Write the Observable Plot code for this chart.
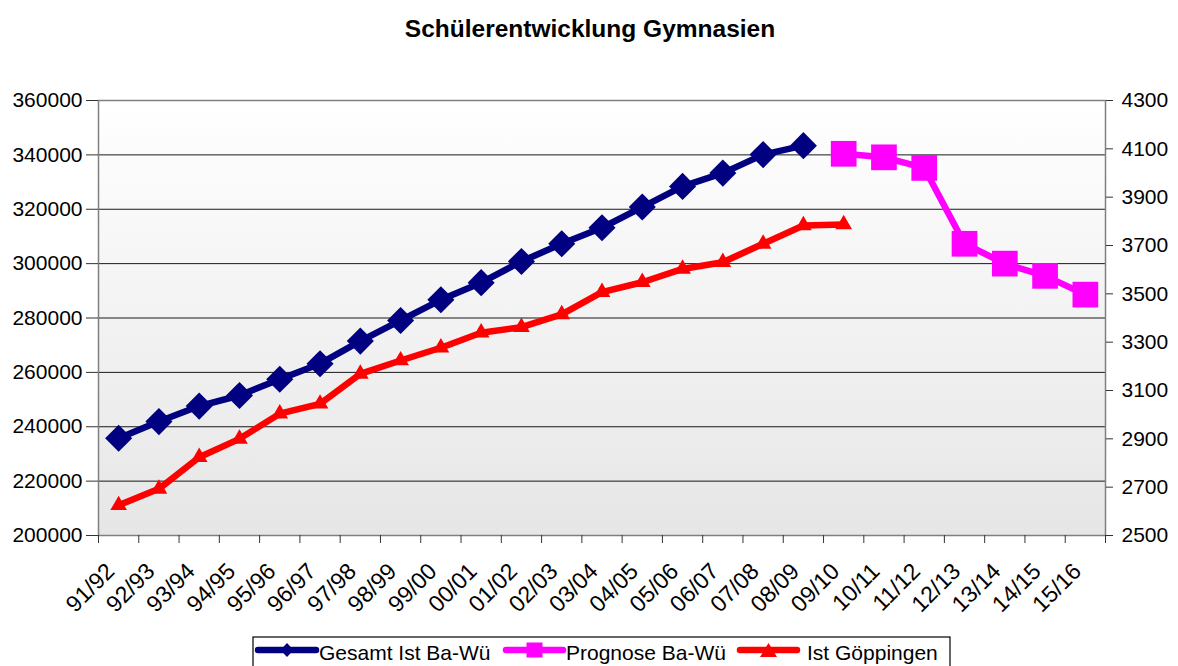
<!DOCTYPE html>
<html>
<head>
<meta charset="utf-8">
<script src="https://cdn.jsdelivr.net/npm/d3@7"></script>
<script src="https://cdn.jsdelivr.net/npm/@observablehq/plot@0.6"></script>
<style>
  body { margin: 0; background: #ffffff; }
  #chart svg { display: block; }
</style>
</head>
<body>
<div id="chart"></div>
<script>
// ---- data ----
const years = ["91/92","92/93","93/94","94/95","95/96","96/97","97/98","98/99","99/00","00/01",
  "01/02","02/03","03/04","04/05","05/06","06/07","07/08","08/09","09/10","10/11",
  "11/12","12/13","13/14","14/15","15/16"];

// Gesamt Ist Ba-Wü (left axis), 91/92 .. 08/09
const gesamtIst = [235800, 241900, 247600, 251500, 257500, 263200, 271500, 279100, 286700, 293000,
  300800, 307300, 313200, 320800, 328400, 333300, 340100, 343400];

// Prognose Ba-Wü (left axis), 09/10 .. 15/16
const prognoseStart = "09/10";
const prognose = [340400, 339100, 335200, 307300, 300000, 295500, 288600];

// Ist Göppingen (right axis), 91/92 .. 09/10
const goeppingen = [2625, 2693, 2824, 2900, 3004, 3045, 3169, 3224, 3277, 3339,
  3362, 3415, 3507, 3548, 3603, 3631, 3707, 3783, 3787];

const leftTicks = [200000, 220000, 240000, 260000, 280000, 300000, 320000, 340000, 360000];
const rightTicks = [2500, 2700, 2900, 3100, 3300, 3500, 3700, 3900, 4100, 4300];
const rightDomain = [2500, 4300];
const leftDomain = [200000, 360000];

const seriesNames = ["Gesamt Ist Ba-Wü", "Prognose Ba-Wü", "Ist Göppingen"];
const seriesColors = ["#000080", "#ff00ff", "#ff0000"];
const title = "Schülerentwicklung Gymnasien";

// ---- derived tables ----
const toLeft = r => leftDomain[0] + (r - rightDomain[0]) * (leftDomain[1] - leftDomain[0]) / (rightDomain[1] - rightDomain[0]);
const fromLeft = v => Math.round(rightDomain[0] + (v - leftDomain[0]) * (rightDomain[1] - rightDomain[0]) / (leftDomain[1] - leftDomain[0]));

const pos = y => years.indexOf(y) + 0.5;
const gesamtRows = gesamtIst.map((v, i) => ({x: pos(years[i]), y: v}));
const p0 = years.indexOf(prognoseStart);
const prognoseRows = prognose.map((v, i) => ({x: pos(years[p0 + i]), y: v}));
const goeRows = goeppingen.map((v, i) => ({x: pos(years[i]), y: toLeft(v)}));
const labelRows = years.map(y => ({x: pos(y), label: y}));

const FONT = "'Liberation Sans', Arial, Helvetica, sans-serif";

const chart = Plot.plot({
  width: 1178,
  height: 666,
  marginLeft: 98,
  marginRight: 73,
  marginTop: 100,
  marginBottom: 131,
  style: {fontFamily: FONT, fontSize: "21px", color: "#000", background: "transparent"},
  x: {domain: [0, years.length], label: null},
  y: {domain: leftDomain, label: null},
  marks: [
    Plot.frame({fill: "url(#plotbg)", stroke: "none"}),
    Plot.gridY({ticks: leftTicks, stroke: "#000", strokeOpacity: 0.9, strokeWidth: 1}),
    Plot.frame({stroke: "#808080", strokeWidth: 1.5}),
    Plot.axisY({anchor: "left", ticks: leftTicks, tickSize: 12, tickPadding: 4, tickFormat: d => String(d), stroke: "#333"}),
    Plot.axisY({anchor: "right", ticks: rightTicks.map(toLeft), tickSize: 7, tickPadding: 9, tickFormat: v => String(fromLeft(v)), stroke: "#333"}),
    Plot.axisX({ticks: d3.range(0, years.length + 1), tickSize: 8, tickFormat: () => "", stroke: "#333"}),
    Plot.text(labelRows, {x: "x", text: "label", frameAnchor: "bottom", rotate: -45, textAnchor: "end", lineAnchor: "middle", dy: 32, dx: -8, fontSize: 23}),
    Plot.line(gesamtRows, {x: "x", y: "y", stroke: seriesColors[0], strokeWidth: 6.5, strokeLinejoin: "round"}),
    Plot.dot(gesamtRows, {x: "x", y: "y", symbol: "diamond2", r: 12.2, fill: seriesColors[0], stroke: "none"}),
    Plot.line(prognoseRows, {x: "x", y: "y", stroke: seriesColors[1], strokeWidth: 6.5, strokeLinejoin: "round"}),
    Plot.dot(prognoseRows, {x: "x", y: "y", symbol: "square", r: 14.5, fill: seriesColors[1], stroke: "none"}),
    Plot.line(goeRows, {x: "x", y: "y", stroke: seriesColors[2], strokeWidth: 6.5, strokeLinejoin: "round"}),
    Plot.dot(goeRows, {x: "x", y: "y", symbol: "triangle", r: 6.2, fill: seriesColors[2], stroke: "none"})
  ]
});

document.getElementById("chart").appendChild(chart);

// gradient background for the plot area
const svg = d3.select(chart);
const defs = svg.insert("defs", ":first-child");
const grad = defs.append("linearGradient").attr("id", "plotbg")
  .attr("x1", 0).attr("y1", 0).attr("x2", 0).attr("y2", 1);
grad.append("stop").attr("offset", "0%").attr("stop-color", "#ffffff");
grad.append("stop").attr("offset", "100%").attr("stop-color", "#e6e6e6");

// title
svg.append("text")
  .attr("x", 590).attr("y", 36.5)
  .attr("text-anchor", "middle")
  .attr("font-family", FONT).attr("font-size", 24.5).attr("font-weight", "bold")
  .attr("fill", "#000")
  .text(title);

// legend
const lg = svg.append("g").attr("font-family", FONT).attr("font-size", 21).attr("text-anchor", "start");
lg.append("rect").attr("x", 253).attr("y", 637).attr("width", 697).attr("height", 40)
  .attr("fill", "#fff").attr("stroke", "#000").attr("stroke-width", 1.2);
const ly = 650;
const items = [
  {x0: 258, x1: 316, text: 319, sym: "diamond"},
  {x0: 506, x1: 563, text: 566, sym: "square"},
  {x0: 740, x1: 797, text: 807, sym: "triangle"}
];
items.forEach((it, i) => {
  lg.append("line").attr("x1", it.x0).attr("x2", it.x1).attr("y1", ly).attr("y2", ly)
    .attr("stroke", seriesColors[i]).attr("stroke-width", 6.5).attr("stroke-linecap", "round");
  const cx = (it.x0 + it.x1) / 2;
  if (it.sym === "diamond") {
    lg.append("path").attr("d", `M${cx},${ly - 7}L${cx + 6.5},${ly}L${cx},${ly + 7}L${cx - 6.5},${ly}Z`).attr("fill", seriesColors[i]);
  } else if (it.sym === "square") {
    lg.append("rect").attr("x", cx - 8).attr("y", ly - 7.5).attr("width", 16).attr("height", 15).attr("fill", seriesColors[i]);
  } else {
    lg.append("path").attr("d", `M${cx},${ly - 7}L${cx + 8.5},${ly + 7}L${cx - 8.5},${ly + 7}Z`).attr("fill", seriesColors[i]);
  }
  lg.append("text").attr("x", it.text).attr("y", 660).attr("fill", "#000").attr("text-anchor", "start").text(seriesNames[i]);
});
</script>
</body>
</html>
